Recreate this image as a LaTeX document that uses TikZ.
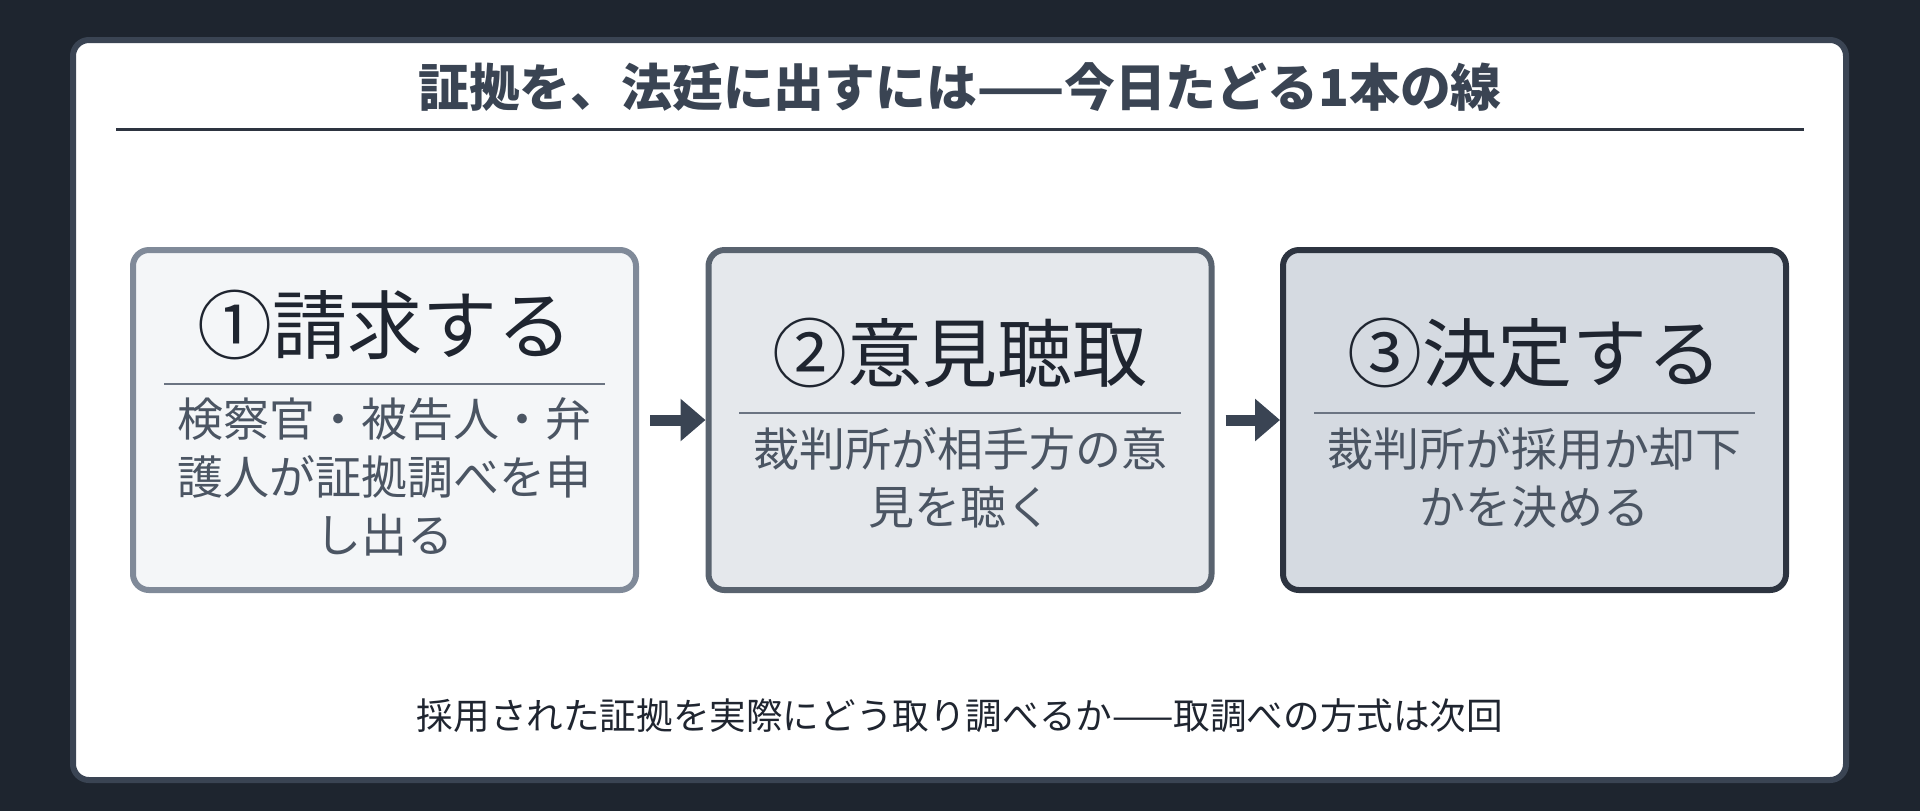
\documentclass[tikz,border=0pt]{standalone}
\usepackage{fontspec}
\setmainfont{Noto Sans CJK JP}
\usepackage{tikz}
\usetikzlibrary{arrows.meta}

\definecolor{bgc}{HTML}{1E252F}
\definecolor{framec}{HTML}{3A4453}
\definecolor{headc}{HTML}{1F2530}
\definecolor{bodyc}{HTML}{4B5563}
\definecolor{rulec}{HTML}{6B7482}
\definecolor{fillA}{HTML}{F4F6F8}
\definecolor{fillB}{HTML}{E5E8EC}
\definecolor{fillC}{HTML}{D5DAE1}
\definecolor{drawA}{HTML}{808A99}
\definecolor{drawB}{HTML}{59636F}
\definecolor{drawC}{HTML}{2D3440}

\begin{document}
\begin{tikzpicture}[x=0.5pt,y=-0.5pt,
  box/.style={draw,line width=3pt,rounded corners=8pt,minimum width=251.5pt,minimum height=170pt},
  head/.style={inner sep=0pt,text=headc,font=\fontsize{37.5pt}{45pt}\selectfont},
  body/.style={inner sep=0pt,anchor=north,align=center,text=bodyc,font=\fontsize{23pt}{29pt}\selectfont},
  arr/.style={line width=5.5pt,draw=framec,-{Triangle[length=12.5pt,width=20.5pt]},shorten <=5.5pt}]
\useasboundingbox (0,0) rectangle (1920,811);
\fill[bgc] (0,0) rectangle (1920,811);
\draw[framec,line width=3pt,fill=white,rounded corners=8pt] (73,40) rectangle (1846,780);

\node[inner sep=0pt,text=framec,font=\fontsize{25.4pt}{30pt}\selectfont\bfseries] (t) at (960,87) {証拠を、法廷に出すには——今日たどる1本の線};
\draw[drawC,line width=1.5pt] (116,129) -- (1804,129);

\node[box,fill=fillA,draw=drawA] (1) at (384.5,420) {};
\node[box,fill=fillB,draw=drawB] (2) at (960,420) {};
\node[box,fill=fillC,draw=drawC] (3) at (1534.5,420) {};

\node[head] (11) at (384.5,325) {①請求する};
\node[head] (21) at (960,352.5) {②意見聴取};
\node[head] (31) at (1534.5,352.5) {③決定する};

\draw[rulec,line width=1.25pt] (164,384) -- (605,384) (739,413) -- (1181,413) (1314,413) -- (1755,413);

\node[body] (12) at (384.5,397) {検察官・被告人・弁\\護人が証拠調べを申\\し出る};
\node[body] (22) at (960,427) {裁判所が相手方の意\\見を聴く};
\node[body] (32) at (1534.5,427) {裁判所が採用か却下\\かを決める};

\draw[arr] (1) -- (2);
\draw[arr] (2) -- (3);

\node[inner sep=0pt,text=headc,font=\fontsize{18.3pt}{22pt}\selectfont] (f) at (960,716) {採用された証拠を実際にどう取り調べるか——取調べの方式は次回};
\end{tikzpicture}
\end{document}
